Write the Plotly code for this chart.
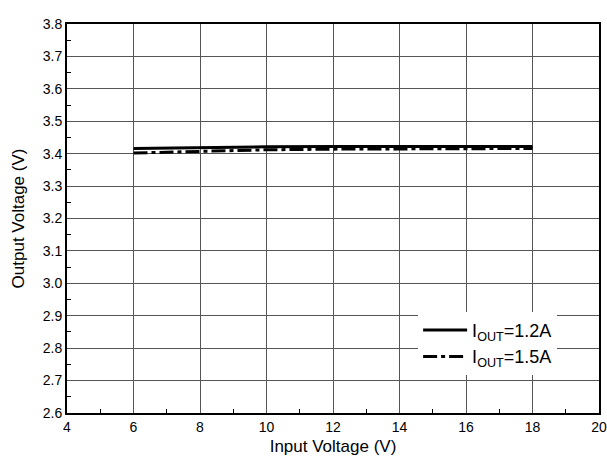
import plotly.graph_objects as go

vin = [6, 8, 10, 12, 14, 16, 18]
vout_12 = [3.416, 3.419, 3.421, 3.422, 3.422, 3.422, 3.422]
vout_15 = [3.402, 3.408, 3.412, 3.414, 3.415, 3.416, 3.416]
names = ["I<sub>OUT</sub>=1.2A", "I<sub>OUT</sub>=1.5A"]

fig = go.Figure()
fig.add_trace(go.Scatter(x=vin, y=vout_12, mode="lines", name=names[0],
                         line=dict(color="black", width=3)))
fig.add_trace(go.Scatter(x=vin, y=vout_15, mode="lines", name=names[1],
                         line=dict(color="black", width=3, dash="14px,4px,4px,4px")))

font = "Liberation Sans, Arial, sans-serif"
fig.update_layout(
    width=607, height=460,
    margin=dict(l=67, r=8, t=24, b=47),
    paper_bgcolor="white", plot_bgcolor="white",
    font=dict(family=font, color="black", size=14),
    showlegend=True,
    legend=dict(x=0.66, y=0.26, xanchor="left", yanchor="top",
                bgcolor="white", borderwidth=0, itemwidth=44,
                font=dict(size=18, family=font), tracegroupgap=0),
)
fig.update_xaxes(range=[4, 20], dtick=2, tick0=4, automargin=False,
                 showgrid=True, gridcolor="#555", gridwidth=1,
                 showline=True, linecolor="black", linewidth=2, mirror=True,
                 ticks="inside", ticklen=0, zeroline=False,
                 minor=dict(dtick=1, ticks="inside", ticklen=4, tickcolor="black", showgrid=False),
                 title=dict(text="Input Voltage (V)", font=dict(size=17), standoff=6),
                 tickfont=dict(size=14))
fig.update_yaxes(range=[2.6, 3.8], dtick=0.1, tick0=2.6, tickformat=".1f", automargin=False,
                 showgrid=True, gridcolor="#555", gridwidth=1,
                 showline=True, linecolor="black", linewidth=2, mirror=True,
                 ticks="inside", ticklen=0, zeroline=False,
                 minor=dict(dtick=0.05, ticks="inside", ticklen=4, tickcolor="black", showgrid=False),
                 title=dict(text="Output Voltage (V)", font=dict(size=17), standoff=14),
                 tickfont=dict(size=14))

fig.write_html("out.html", config={"displayModeBar": False},
               post_script="document.body.style.margin='0';document.body.style.overflow='hidden';")
